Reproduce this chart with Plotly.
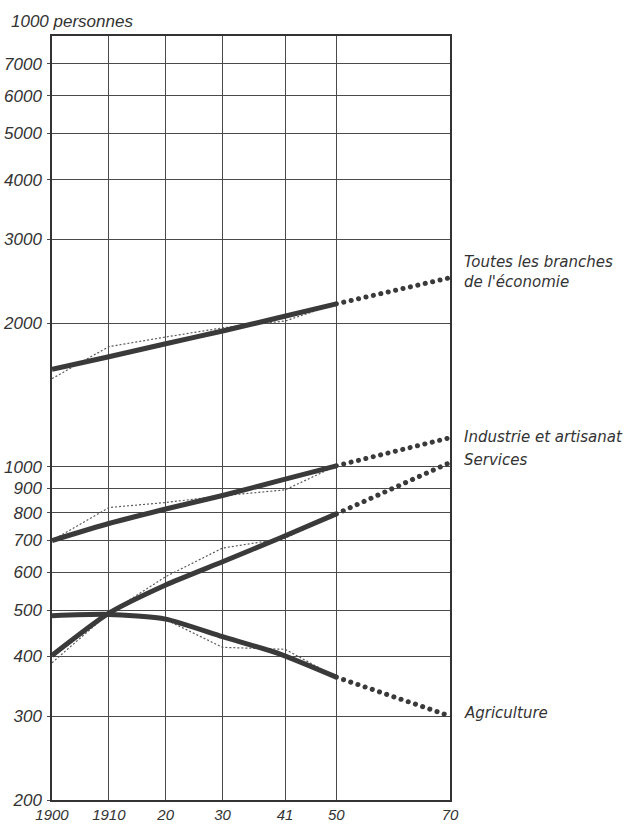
import math
import plotly.graph_objects as go

# ---- data (1000 persons) ----
years_census = [1900, 1910, 1920, 1930, 1941, 1950]
years_trend = [1900, 1910, 1920, 1930, 1940, 1950]
years_proj = [1950, 1970]

total_actual = [1530, 1785, 1870, 1955, 2020, 2195]
total_trend = [1600, 1700, 1810, 1925, 2055, 2195]
total_proj = [2195, 2490]

industry_actual = [700, 821, 841, 869, 894, 1004]
industry_trend = [700, 760, 815, 870, 935, 1004]
industry_proj = [1004, 1150]

services_actual = [388, 493, 588, 675, 708, 796]
services_trend = [402, 493, 565, 632, 708, 796]
services_proj = [796, 1020]

agri_actual = [488, 489, 478, 418, 414, 362]
agri_trend = [487, 490, 479, 440, 405, 362]
agri_proj = [362, 300]

y_ticks = [200, 300, 400, 500, 600, 700, 800, 900, 1000,
           2000, 3000, 4000, 5000, 6000, 7000]
x_ticks = [1900, 1910, 1920, 1930, 1941, 1950, 1970]
x_ticklabels = ["1900", "1910", "20", "30", "41", "50", "70"]

labels = ["Toutes les branches<br>de l'économie", "Industrie et artisanat",
          "Services", "Agriculture"]
label_pos = [2560, 1155, 1034, 304]

INK = "#3a3a3a"
FONT = "Liberation Sans, Arial, sans-serif"
LABEL_FONT = "DejaVu Sans, Liberation Sans, sans-serif"

fig = go.Figure()

series = [
    (total_actual, total_trend, total_proj),
    (industry_actual, industry_trend, industry_proj),
    (services_actual, services_trend, services_proj),
    (agri_actual, agri_trend, agri_proj),
]

# thin dotted observed values
for act, tr, pr in series:
    fig.add_trace(go.Scatter(x=years_census, y=act, mode="lines",
                             line=dict(color="#5a5a5a", width=1.2, dash="2px,2px"),
                             showlegend=False, hoverinfo="skip"))
# thick trend
for act, tr, pr in series:
    fig.add_trace(go.Scatter(x=years_trend, y=tr, mode="lines",
                             line=dict(color=INK, width=5, shape="spline", smoothing=0.6),
                             showlegend=False))
# projections (large dots)
for act, tr, pr in series:
    fig.add_trace(go.Scatter(x=years_proj, y=pr, mode="lines",
                             line=dict(color=INK, width=5, dash="4px,3.6px"),
                             showlegend=False))

annotations = [
    dict(text="1000 personnes", xref="paper", yref="paper", x=0, y=1,
         xanchor="left", yanchor="bottom", xshift=-43, yshift=3, showarrow=False,
         font=dict(family=FONT, size=17, color="#333", style="italic"))
]
for txt, yv in zip(labels, label_pos):
    annotations.append(dict(text=txt, xref="x", yref="y", x=1970, y=math.log10(yv),
                            xanchor="left", yanchor="middle", xshift=12, align="left",
                            showarrow=False,
                            font=dict(family=LABEL_FONT, size=15, color="#333",
                                      style="italic")))

fig.update_layout(
    width=636, height=824,
    margin=dict(l=52, r=186, t=36, b=24),
    plot_bgcolor="white", paper_bgcolor="white",
    annotations=annotations,
    showlegend=False,
)
fig.update_xaxes(
    range=[1900, 1970], tickvals=x_ticks, ticktext=x_ticklabels,
    showgrid=True, gridcolor="#4a4a4a", gridwidth=1,
    showline=True, linecolor="#333", linewidth=1.5, mirror=True,
    ticks="", ticklabelstandoff=0, zeroline=False, automargin=False,
    tickfont=dict(family=FONT, size=15, color="#333", style="italic"),
)
fig.update_yaxes(
    type="log", range=[math.log10(200), math.log10(8000)],
    tickvals=y_ticks, ticktext=[str(v) for v in y_ticks],
    showgrid=True, gridcolor="#4a4a4a", gridwidth=1,
    showline=True, linecolor="#333", linewidth=1.5, mirror=True,
    ticks="outside", ticklen=3, tickcolor="#4a4a4a", ticklabelstandoff=2,
    zeroline=False, automargin=False,
    tickfont=dict(family=FONT, size=17, color="#333", style="italic"),
)

post = """
document.body.style.margin = '0';
document.body.style.padding = '0';
var gd = document.getElementById('{plot_id}');
var traces = gd.querySelectorAll('.scatterlayer .trace');
for (var i = traces.length - 4; i < traces.length; i++) {
  var p = traces[i].querySelector('path.js-line');
  if (p) { p.style.strokeLinecap = 'round'; p.style.strokeDasharray = '0.1px,7.5px'; }
}
"""

fig.write_html("out.html", post_script=post, config={"displayModeBar": False})
